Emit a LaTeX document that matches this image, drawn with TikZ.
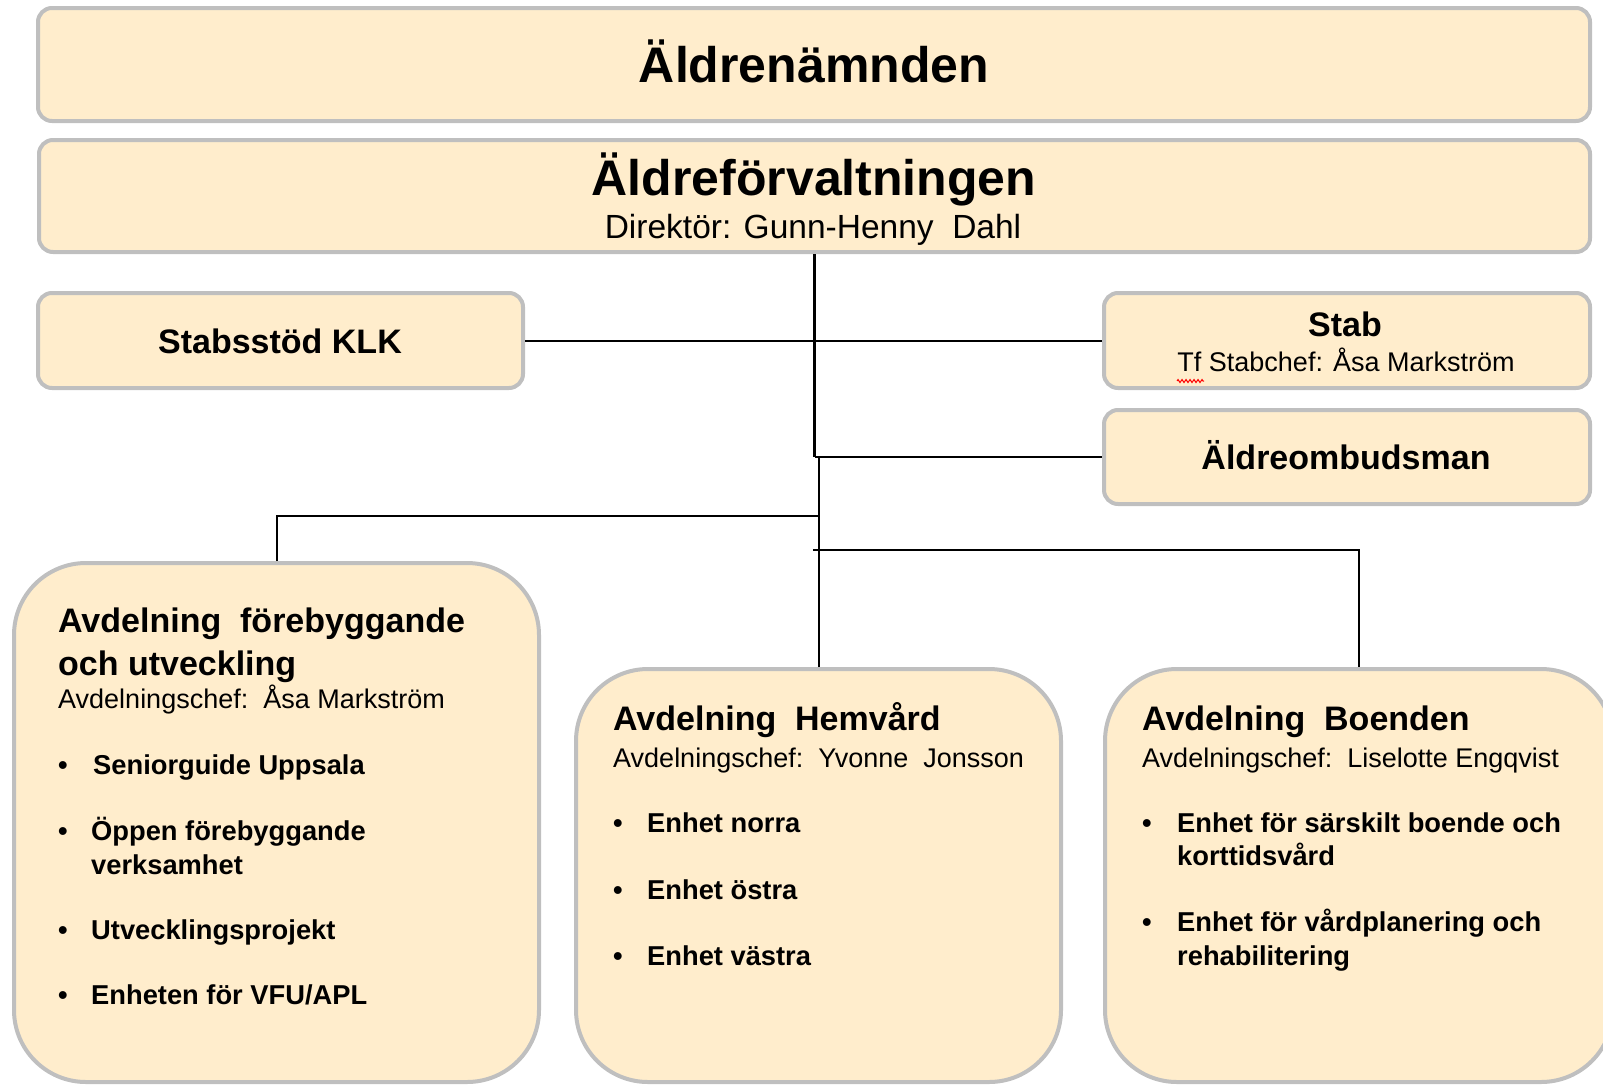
\documentclass[tikz,border=0pt]{standalone}
\usepackage{fontspec}
\setmainfont{Liberation Sans}
\usetikzlibrary{decorations.pathmorphing}
\definecolor{boxfill}{HTML}{FFEDCC}
\definecolor{boxline}{HTML}{BFBFBF}
\newcommand\fTitle{\fontsize{50}{60}\selectfont\bfseries}
\newcommand\fHead{\fontsize{34}{40}\selectfont\bfseries}
\newcommand\fSub{\fontsize{27}{32}\selectfont}
\newcommand\fItem{\fontsize{27.3}{32}\selectfont\bfseries}
\newcommand\fDir{\fontsize{33.5}{40}\selectfont}
\tikzset{
  topbox/.style={draw=boxline, line width=4pt, fill=boxfill, rounded corners=14pt, inner sep=0pt},
  bigbox/.style={draw=boxline, line width=4pt, fill=boxfill, rounded corners=72pt, inner sep=0pt},
  conn/.style={line width=2pt, draw=black},
  trunk/.style={line width=3pt, draw=black},
  ctxt/.style={inner sep=0pt, anchor=base},
  ltxt/.style={inner sep=0pt, anchor=base west},
}
\begin{document}
\begin{tikzpicture}[x=1pt, y=-1pt]
\useasboundingbox (0,0) rectangle (1603,1084);
\begin{scope}
\clip (0,0) rectangle (1603,1084);
% boxes
\node[topbox, minimum width=1552pt, minimum height=113pt] (nam) at (814,64.5) {};
\node[topbox, minimum width=1551pt, minimum height=112pt] (dir) at (814.5,196) {};
\node[topbox, minimum width=485pt, minimum height=95pt] (klk) at (280.5,340.5) {};
\node[topbox, minimum width=486pt, minimum height=95pt] (stab) at (1347,340.5) {};
\node[topbox, minimum width=486pt, minimum height=94pt] (omb) at (1347,457) {};
\node[bigbox, minimum width=525pt, minimum height=519pt] (avd1) at (276.5,822.5) {};
\node[bigbox, minimum width=485pt, minimum height=413pt] (avd2) at (818.5,875.5) {};
\node[bigbox, minimum width=508pt, minimum height=413pt] (avd3) at (1359,875.5) {};
% connectors
\draw[conn] (klk.east) -- (stab.west);
\draw[conn] (dir.south |- omb.west) -- (omb.west);
\draw[trunk] (dir.south) -- (dir.south |- omb.west);
\draw[conn] (avd2.north) -- (avd2.north |- omb.west);
\coordinate (jl) at (818.5,516);
\coordinate (jr) at (813,550);
\draw[conn] (jl) -| (avd1.north);
\draw[conn] (jr) -| (avd3.north);
\end{scope}
% texts top
\node[ctxt, font=\fTitle] (t1) at (814,82) {Äldrenämnden};
\node[ctxt, font=\fTitle] (t2) at (814,195) {Äldreförvaltningen};
\node[ctxt, font=\fDir] (t3) at (813,238) {Direktör: Gunn-Henny\ \ Dahl};
\node[ctxt, font=\fHead] (t4) at (280,353) {Stabsstöd KLK};
\node[ctxt, font=\fHead] (t5) at (1345,336) {Stab};
\node[ctxt, font=\fSub] (t6) at (1346,371) {Tf Stabchef: Åsa Markström};
\draw[red, line width=1pt, decorate, decoration={zigzag, segment length=4pt, amplitude=1.5pt}] (1177,381) -- (1204,381);
\node[ctxt, font=\fHead] (t7) at (1346,469) {Äldreombudsman};
% left box
\node[ltxt, font=\fHead] (a1) at (58,632) {Avdelning\ \ förebyggande};
\node[ltxt, font=\fHead] (a2) at (58,675) {och utveckling};
\node[ltxt, font=\fSub] (a3) at (58,708) {Avdelningschef:\ \ Åsa Markström};
\node[ctxt, font=\fItem] (ab1) at (63,774) {•};
\node[ltxt, font=\fItem] (ai1) at (93,774) {Seniorguide Uppsala};
\node[ctxt, font=\fItem] (ab2) at (63,840) {•};
\node[ltxt, font=\fItem] (ai2) at (91,840) {Öppen förebyggande};
\node[ltxt, font=\fItem] (ai2b) at (91,874) {verksamhet};
\node[ctxt, font=\fItem] (ab3) at (63,939) {•};
\node[ltxt, font=\fItem] (ai3) at (91,939) {Utvecklingsprojekt};
\node[ctxt, font=\fItem] (ab4) at (63,1004) {•};
\node[ltxt, font=\fItem] (ai4) at (91,1004) {Enheten för VFU/APL};
% middle box
\node[ltxt, font=\fHead] (b1) at (613,730) {Avdelning\ \ Hemvård};
\node[ltxt, font=\fSub] (b2) at (613,767) {Avdelningschef:\ \ Yvonne\ \ Jonsson};
\node[ctxt, font=\fItem] (bb1) at (618,832) {•};
\node[ltxt, font=\fItem] (bi1) at (647,832) {Enhet norra};
\node[ctxt, font=\fItem] (bb2) at (618,899) {•};
\node[ltxt, font=\fItem] (bi2) at (647,899) {Enhet östra};
\node[ctxt, font=\fItem] (bb3) at (618,965) {•};
\node[ltxt, font=\fItem] (bi3) at (647,965) {Enhet västra};
% right box
\node[ltxt, font=\fHead] (c1) at (1142,730) {Avdelning\ \ Boenden};
\node[ltxt, font=\fSub] (c2) at (1142,767) {Avdelningschef:\ \ Liselotte Engqvist};
\node[ctxt, font=\fItem] (cb1) at (1147,832) {•};
\node[ltxt, font=\fItem] (ci1) at (1177,832) {Enhet för särskilt boende och};
\node[ltxt, font=\fItem] (ci1b) at (1177,865) {korttidsvård};
\node[ctxt, font=\fItem] (cb2) at (1147,931) {•};
\node[ltxt, font=\fItem] (ci2) at (1177,931) {Enhet för vårdplanering och};
\node[ltxt, font=\fItem] (ci2b) at (1177,965) {rehabilitering};
\end{tikzpicture}
\end{document}
